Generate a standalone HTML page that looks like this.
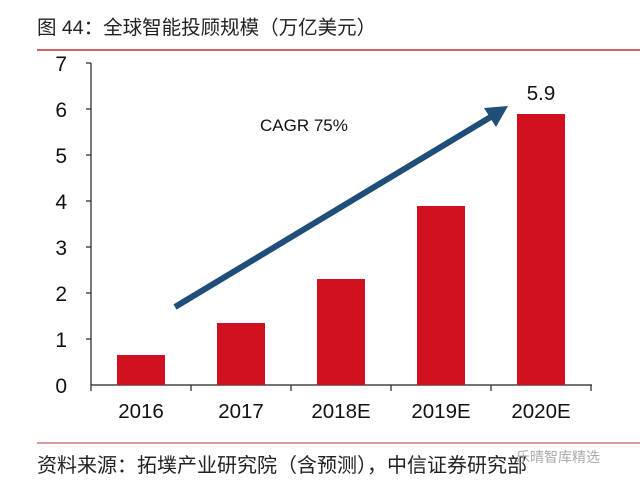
<!DOCTYPE html>
<html><head><meta charset="utf-8"><style>
body{margin:0;background:#fff;width:640px;height:481px;overflow:hidden;font-family:"Liberation Sans","Noto Sans CJK SC",sans-serif}
</style></head><body>
<svg width="640" height="481" xmlns="http://www.w3.org/2000/svg" style="position:absolute;left:0;top:0">
<text x="37" y="34" font-size="19.5" fill="#222" font-family="Liberation Sans,Noto Sans CJK SC,sans-serif">图 44：全球智能投顾规模（万亿美元）</text>
<line x1="37" y1="50" x2="640" y2="50" stroke="#b5333a" stroke-width="1.5"/>
<g stroke="#222" stroke-width="1.2" fill="none">
<line x1="91" y1="63" x2="91" y2="385"/>
<line x1="91" y1="385" x2="592" y2="385"/>
<line x1="86" y1="63" x2="91" y2="63"/><line x1="86" y1="109" x2="91" y2="109"/><line x1="86" y1="155" x2="91" y2="155"/><line x1="86" y1="201" x2="91" y2="201"/><line x1="86" y1="247" x2="91" y2="247"/><line x1="86" y1="293" x2="91" y2="293"/><line x1="86" y1="339" x2="91" y2="339"/>
<line x1="191" y1="385" x2="191" y2="391"/><line x1="291" y1="385" x2="291" y2="391"/><line x1="391" y1="385" x2="391" y2="391"/><line x1="491" y1="385" x2="491" y2="391"/><line x1="591" y1="385" x2="591" y2="391"/><line x1="91" y1="385" x2="91" y2="391"/>
</g>
<g font-size="21" fill="#111" text-anchor="end">
<text x="67" y="71">7</text><text x="67" y="117">6</text><text x="67" y="163">5</text><text x="67" y="209">4</text><text x="67" y="255">3</text><text x="67" y="301">2</text><text x="67" y="347">1</text><text x="67" y="393">0</text>
</g>
<g fill="#d0101e">
<rect x="117" y="355" width="48" height="30"/>
<rect x="217" y="323" width="48" height="62"/>
<rect x="317" y="279" width="48" height="106"/>
<rect x="417" y="206" width="48" height="179"/>
<rect x="517" y="114" width="48" height="271"/>
</g>
<g font-size="20.5" fill="#111" text-anchor="middle">
<text x="141" y="418">2016</text><text x="241" y="418">2017</text><text x="341" y="418">2018E</text><text x="441" y="418">2019E</text><text x="541" y="418">2020E</text>
<text x="541" y="100">5.9</text>
</g>
<text x="260" y="131" font-size="17" fill="#111">CAGR 75%</text>
<line x1="175" y1="307" x2="494" y2="115" stroke="#1f4e79" stroke-width="6"/>
<polygon points="508,106 484,108 496,127" fill="#1f4e79"/>
<line x1="37" y1="443" x2="640" y2="443" stroke="#b5333a" stroke-width="1"/>
<text x="37" y="472" font-size="20" fill="#222" font-family="Liberation Sans,Noto Sans CJK SC,sans-serif">资料来源：拓墣产业研究院（含预测），中信证券研究部</text>
<text x="516" y="462" font-size="14" fill="#aaa" font-family="Noto Sans CJK SC,sans-serif">乐晴智库精选</text>
</svg>
</body></html>
